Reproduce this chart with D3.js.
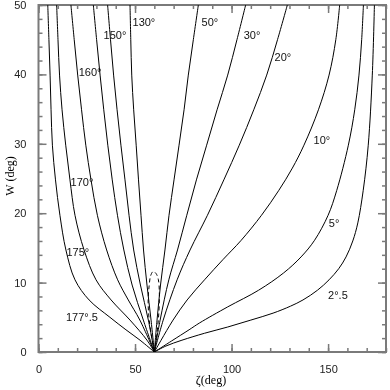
<!DOCTYPE html>
<html>
<head>
<meta charset="utf-8">
<script src="https://cdn.jsdelivr.net/npm/d3@7"></script>
<style>
  body { margin: 0; background: #fff; }
  svg { display: block; will-change: transform; }
  text { font-family: "Liberation Sans", Helvetica, Arial, sans-serif; }
</style>
</head>
<body>
<svg id="chart" width="390" height="390"></svg>
<script>
// curves, [zeta, W] in degrees
var curve177 = [[4.8,50],[5.4,45],[6.0,39.9],[6.5,34.9],[7.2,29.8],[8.8,24.8],[11.1,19.7],[14.2,14.7],[18.9,10.4],[26.2,7.5],[37.0,5.0],[45.3,3.2],[52.6,1.7],[60,0]]
var curve175 = [[9.4,50],[10.1,45],[10.9,39.9],[12.2,34.9],[14.1,29.8],[16.3,24.8],[18.9,19.7],[23.6,14.7],[29.8,10.4],[37.6,7.5],[47.4,4.6],[56.2,1.7],[60,0]]
var curve170 = [[16.8,50],[18.5,45],[20.3,39.9],[22.3,34.9],[24.5,29.8],[27.2,24.8],[30.5,19.7],[35.3,14.7],[41.0,10.4],[46.5,7.5],[52.5,4.6],[60,0]]
var curve160 = [[28.4,50],[30.1,45],[31.9,39.9],[33.8,34.9],[35.9,29.8],[38.2,24.8],[40.9,19.7],[44.2,14.7],[48.5,9.65],[54.3,4.6],[60,0]]
var curve150 = [[35.8,50],[37.3,45],[38.9,39.9],[40.7,34.9],[42.7,29.8],[44.8,24.8],[46.9,19.7],[49.3,14.7],[52.8,9.65],[56.9,4.6],[60,0]]
var curve130 = [[47.4,50],[47.8,45],[48.3,39.9],[49.3,34.9],[50.6,29.8],[51.8,24.8],[53.1,19.7],[54.4,14.7],[56.2,9.65],[58.3,4.6],[60,0]]
var curve50 = [[82.8,50],[80.2,45],[77.6,39.9],[75.4,34.9],[72.8,29.8],[70.2,24.8],[67.6,19.7],[65.5,14.7],[63.2,9.65],[61.4,4.6],[60,0]]
var curve30 = [[107.3,50],[102.8,45],[98.0,39.9],[92.5,34.9],[87.1,29.8],[81.8,24.8],[76.8,19.7],[72.0,14.7],[67.5,10.4],[63.0,4.6],[60,0]]
var curve20 = [[128.9,50],[123.8,45],[118.2,39.9],[111.5,34.9],[104.0,29.8],[96.0,24.8],[87.5,19.7],[78.5,14.7],[71.8,10.4],[64.6,4.6],[60,0]]
var curve10 = [[156.0,50],[154.0,45],[150.5,39.9],[145.0,34.9],[137.5,29.8],[131.5,26.5],[124.5,23.3],[115.5,19.7],[105.0,16.1],[95.5,13.3],[86.0,10.4],[77.0,7.5],[69.7,4.6],[63.5,1.7],[60,0]]
var curve5 = [[168.3,50],[167.4,45],[166.0,39.9],[163.8,34.9],[160.5,29.8],[154.5,23.3],[150.0,19.7],[143.0,16.1],[136.0,13.7],[127.0,11.4],[114.0,8.9],[98.0,6.5],[83.5,4.2],[78.0,3.2],[69.0,1.6],[60,0]]
var curve2_5 = [[174.0,50],[172.9,39.9],[170.8,29.8],[168.2,23.3],[165.4,18.6],[162.8,16.0],[159.3,13.7],[155.5,12.0],[150.5,10.4],[144.5,8.9],[137.0,7.5],[130.5,6.6],[121.5,5.6],[110.0,4.6],[98.0,3.6],[86.0,2.7],[74.3,1.7],[66.0,0.86],[60,0]]
// dashed loop
var loop = [[60,0],[58.4,2.5],[57.2,5],[56.8,7.5],[57.3,9.5],[58.1,11.0],[59.4,11.6],[60.9,11.3],[62.1,10.4],[62.6,8.5],[62.4,6],[61.5,3],[60,0]]

var curves = [curve177, curve175, curve170, curve160, curve150, curve130,
              curve50, curve30, curve20, curve10, curve5, curve2_5]

// label text and where it sits (zeta, W)
var labelText = ["177°.5", "175°", "170°", "160°", "150°", "130°", "50°", "30°", "20°", "10°", "5°", "2°.5"]
var labelZeta = [22.5, 20.4, 22.5, 26.7, 39.6, 54.6, 88.8, 110.6, 126.6, 146.8, 153.1, 155.1]
var labelW = [5.0, 14.4, 24.5, 40.4, 45.7, 47.6, 47.6, 45.7, 42.5, 30.5, 18.6, 8.2]

var xMajor = [0, 50, 100, 150]
var yMajor = [0, 10, 20, 30, 40, 50]

var margin = {top: 5, right: 4, bottom: 38, left: 38.5}
var width = 390 - margin.left - margin.right
var height = 390 - margin.top - margin.bottom

var svg = d3.select("#chart")
var g = svg.append("g").attr("transform", "translate(" + margin.left + "," + margin.top + ")")

var x = d3.scaleLinear().domain([0, 180]).range([0, width])
var y = d3.scaleLinear().domain([0, 50]).range([height, 0])

var frameColor = "#7a7a7a"

// minor ticks
function axisMinor(axis, scale, values) {
    return axis(scale).tickValues(values).tickSize(-4).tickFormat("")
}
var xMinor = d3.range(0, 181, 10)
var yMinor = d3.range(0, 51, 2)

g.append("g").attr("transform", "translate(0," + height + ")").call(axisMinor(d3.axisBottom, x, xMinor))
g.append("g").call(axisMinor(d3.axisTop, x, xMinor))
g.append("g").call(axisMinor(d3.axisLeft, y, yMinor))
g.append("g").attr("transform", "translate(" + width + ",0)").call(axisMinor(d3.axisRight, y, yMinor))

// major ticks with labels on left and bottom
g.append("g").attr("class", "xaxis").attr("transform", "translate(0," + height + ")")
    .call(d3.axisBottom(x).tickValues(xMajor).tickSize(-8).tickPadding(13))
g.append("g").call(d3.axisTop(x).tickValues(xMajor).tickSize(-8).tickFormat(""))
g.append("g").attr("class", "yaxis")
    .call(d3.axisLeft(y).tickValues(yMajor).tickSize(-8).tickPadding(12))
g.append("g").attr("transform", "translate(" + width + ",0)")
    .call(d3.axisRight(y).tickValues(yMajor).tickSize(-8).tickFormat(""))

g.selectAll(".domain").remove()
g.selectAll(".tick line").attr("stroke", frameColor).attr("stroke-width", 1.5)
g.selectAll(".tick text").attr("font-size", 11).attr("fill", "#222")
    .style("font-family", "'Liberation Sans', Helvetica, Arial, sans-serif")

// frame
g.append("rect").attr("x", 0).attr("y", 0).attr("width", width).attr("height", height)
    .attr("fill", "none").attr("stroke", frameColor).attr("stroke-width", 2)

var line = d3.line()
    .x(function(d) { return x(d[0]) })
    .y(function(d) { return y(d[1]) })
    .curve(d3.curveCatmullRom.alpha(0.5))

var clip = g.append("clipPath").attr("id", "clip")
clip.append("rect").attr("width", width).attr("height", height)

var plot = g.append("g").attr("clip-path", "url(#clip)")

plot.selectAll("path.curve").data(curves).enter().append("path")
    .attr("class", "curve")
    .attr("d", line)
    .attr("fill", "none")
    .attr("stroke", "#000")
    .attr("stroke-width", 1)

plot.append("path")
    .attr("d", line(loop))
    .attr("fill", "none")
    .attr("stroke", "#000")
    .attr("stroke-width", 1)
    .attr("stroke-dasharray", "4,3")

g.selectAll("text.lab").data(labelText).enter().append("text")
    .attr("class", "lab")
    .attr("x", function(d, i) { return x(labelZeta[i]) })
    .attr("y", function(d, i) { return y(labelW[i]) + 4 })
    .attr("text-anchor", "middle")
    .attr("font-size", 11)
    .attr("fill", "#111")
    .text(function(d) { return d })

// axis titles (serif in the original)
svg.append("text")
    .attr("x", 211).attr("y", 384)
    .attr("text-anchor", "middle")
    .attr("font-size", 12)
    .style("font-family", "'Liberation Serif', 'DejaVu Serif', serif")
    .text("ζ(deg)")

svg.append("text")
    .attr("transform", "translate(14,176) rotate(-90)")
    .attr("text-anchor", "middle")
    .attr("font-size", 12)
    .style("font-family", "'Liberation Serif', 'DejaVu Serif', serif")
    .text("W (deg)")
</script>
</body>
</html>
